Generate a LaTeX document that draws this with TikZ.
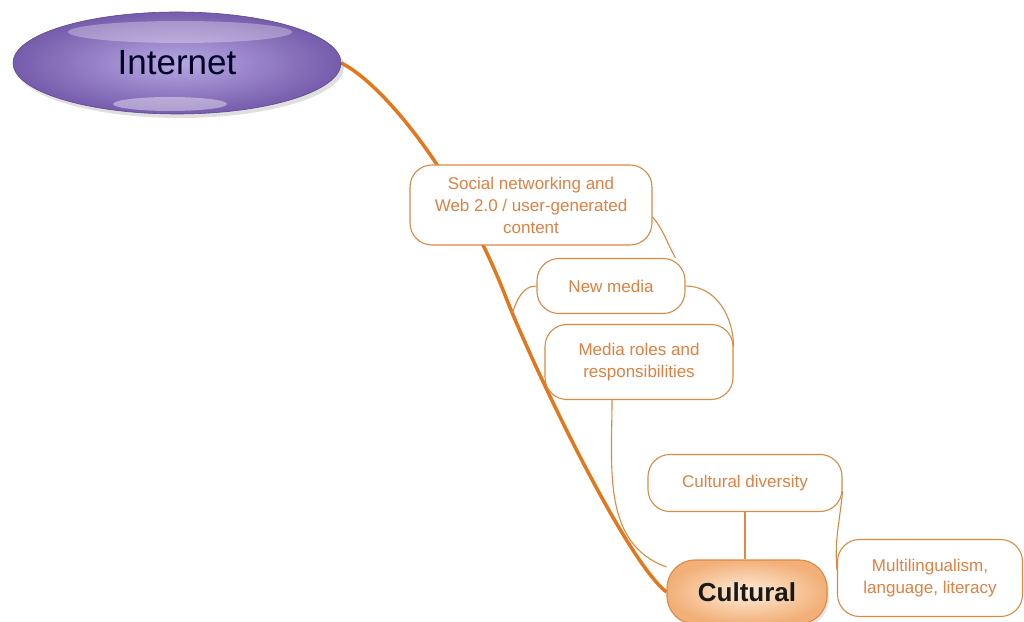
\documentclass[tikz,border=0pt]{standalone}
\usepackage{fontspec}
\setmainfont{Liberation Sans}
\usetikzlibrary{shapes.geometric,backgrounds,shadows}
\definecolor{branch}{RGB}{228,118,28}
\definecolor{rim}{RGB}{218,138,66}
\definecolor{ink}{RGB}{224,128,66}
\definecolor{inetlight}{RGB}{184,168,226}
\definecolor{inetdark}{RGB}{118,92,172}
\definecolor{peachlight}{RGB}{254,236,218}
\definecolor{peachdark}{RGB}{242,176,120}
\tikzset{
  topic/.style={draw=rim, line width=1.1pt, fill=white, rounded corners=22pt,
    align=center, text=ink, inner sep=0pt, font=\fontsize{17}{22}\selectfont},
  link/.style={draw=rim, line width=1.1pt},
  mainlink/.style={draw=branch, line width=3.5pt},
}
\begin{document}
\begin{tikzpicture}[x=1pt,y=1pt]
      \useasboundingbox (0,0) rectangle (1024,621);
      \node[ellipse, minimum width=328pt, minimum height=102pt, inner color=inetlight, outer color=inetdark,
        draw=inetdark!80!black, line width=0.6pt, drop shadow={shadow xshift=3pt,shadow yshift=-4pt,opacity=0.25},
        text=black!85!blue, font=\fontsize{35}{40}\selectfont] (internet) at (177,558) {Internet};
      \fill[white, opacity=0.3] (180,589) ellipse (112 and 11);
      \fill[white, opacity=0.4] (170,517) ellipse (57 and 7);
      \node[topic, minimum width=242pt, minimum height=80pt] (social) at (531,416) {Social networking and\\Web 2.0 / user-generated\\content};
      \node[topic, minimum width=148pt, minimum height=55pt] (newmedia) at (611,335) {New media};
      \node[topic, minimum width=188pt, minimum height=75pt] (mediaroles) at (639,259) {Media roles and\\responsibilities};
      \node[topic, minimum width=194pt, minimum height=57pt] (diversity) at (745,138) {Cultural diversity};
      \node[topic, minimum width=185pt, minimum height=77pt] (multiling) at (930,43) {Multilingualism,\\language, literacy};
      \node[topic, rounded corners=28pt, minimum width=160pt, minimum height=64pt, inner color=peachlight, outer color=peachdark,
        drop shadow={shadow xshift=2pt,shadow yshift=-3pt,opacity=0.2},
        text=black!90, font=\bfseries\fontsize{26}{30}\selectfont] (cultural) at (747,29) {Cultural};
      \begin{pgfonlayer}{background}
        \draw[mainlink] (internet.east) .. controls (385,536) and (460,441) .. (505,326)
          .. controls (530,261) and (625,61) .. (cultural.west) coordinate[pos=0.08] (nmjoin);
        \draw[link] ([yshift=-12pt]social.east) to[out=-50, in=120] ([xshift=-10pt]newmedia.north east);
        \draw[link] (newmedia.east) to[out=0, in=90] ([yshift=15pt]mediaroles.east);
        \draw[link] (newmedia.west) to[out=180, in=70] (nmjoin);
        \draw[link] ([xshift=-27pt]mediaroles.south) to[out=-90, in=160] ([yshift=25pt]cultural.west);
        \draw[link] (diversity.south) -- (diversity.south |- cultural.north);
        \draw[link] ([yshift=-8pt]diversity.east) to[out=-95, in=95] ([yshift=8pt]multiling.west);
      \end{pgfonlayer}
    \end{tikzpicture}
\end{document}
